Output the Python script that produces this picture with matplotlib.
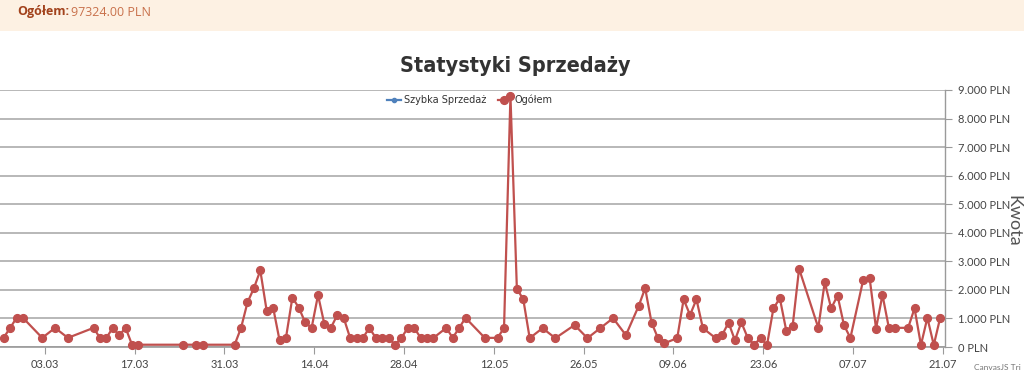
#!/usr/bin/env python
# sales statistics line chart (CanvasJS look)
import numpy as np
import pandas as pd
import matplotlib
matplotlib.use("Agg")
import matplotlib.pyplot as plt
import matplotlib.dates as mdates
from matplotlib import font_manager
from matplotlib.patches import Rectangle
from matplotlib.ticker import FuncFormatter

year = "2023"

days = ["25.02", "26.02", "27.02", "28.02", "03.03", "05.03", "07.03", "11.03", "12.03", "13.03",
        "14.03", "15.03", "16.03", "17.03", "18.03", "25.03", "27.03", "28.03", "02.04", "03.04",
        "04.04", "05.04", "06.04", "07.04", "08.04", "09.04", "10.04", "11.04", "12.04", "13.04",
        "14.04", "15.04", "16.04", "17.04", "18.04", "19.04", "20.04", "21.04", "22.04", "23.04",
        "24.04", "25.04", "26.04", "27.04", "28.04", "29.04", "30.04", "01.05", "02.05", "03.05",
        "05.05", "06.05", "07.05", "08.05", "11.05", "13.05", "14.05", "15.05", "16.05", "17.05",
        "18.05", "20.05", "22.05", "25.05", "27.05", "29.05", "31.05", "02.06", "04.06", "05.06",
        "06.06", "07.06", "08.06", "10.06", "11.06", "12.06", "13.06", "14.06", "16.06", "17.06",
        "18.06", "19.06", "20.06", "21.06", "22.06", "23.06", "24.06", "25.06", "26.06", "27.06",
        "28.06", "29.06", "02.07", "03.07", "04.07", "05.07", "06.07", "07.07", "09.07", "10.07",
        "11.07", "12.07", "13.07", "14.07", "16.07", "17.07", "18.07", "19.07", "20.07", "21.07"]

ogolem = [330, 670, 1020, 1020, 320, 670, 320, 670, 320, 320,
          670, 410, 670, 80, 80, 80, 80, 80, 80, 670,
          1560, 2060, 2680, 1260, 1380, 235, 320, 1730, 1380, 860,
          670, 1820, 790, 670, 1120, 1020, 320, 320, 320, 670,
          320, 320, 320, 80, 320, 670, 670, 320, 320, 320,
          670, 320, 670, 1020, 320, 320, 670, 8800, 2040, 1670,
          310, 660, 310, 770, 310, 660, 1010, 415, 1440, 2060,
          855, 310, 130, 310, 1670, 1120, 1670, 660, 310, 415,
          855, 235, 860, 318, 80, 318, 70, 1353, 1706, 576,
          741, 2741, 671, 2271, 1353, 1800, 765, 318, 2353, 2412,
          647, 1824, 671, 671, 671, 1353, 70, 1024, 70, 1024]

szybka = []  # empty series, legend only

tick_days = ["03.03", "17.03", "31.03", "14.04", "28.04", "12.05", "26.05", "09.06", "23.06", "07.07", "21.07"]

total = "97324.00 PLN"

red = "#C0504E"
blue = "#4F81BC"
grid = "#ababab"
txt = "#444444"

# pick a narrow heavy face for the title if one is installed
title_font = None
for f in font_manager.fontManager.ttflist:
    if "Narrow" in f.name or "Condensed" in f.name:
        title_font = f
        break
    if f.stretch in ("condensed", "semi-condensed", 300) and f.weight in ("bold", 700):
        title_font = f
        break

dates = pd.to_datetime([d + "." + year for d in days], format="%d.%m.%Y") - pd.Timedelta(hours=10)
ticks = pd.to_datetime([d + "." + year for d in tick_days], format="%d.%m.%Y")

fig = plt.figure(figsize=(10.24, 3.83), dpi=100)
W, H = 1024.0, 383.0

# top banner
fig.patches.append(Rectangle((0, 1 - 31 / H), 1, 31 / H, transform=fig.transFigure,
                             facecolor="#fdf1e3", edgecolor="none", zorder=0))
fig.text(17 / W, 1 - 12 / H, "Ogółem:", fontsize=9, fontweight="bold", color="#a2421c",
         family="Open Sans", va="center", ha="left")
fig.text(71 / W, 1 - 12 / H, total, fontsize=9, color="#c8714b",
         family="Open Sans", va="center", ha="left")

# title
if title_font is not None:
    fig.text(515 / W, 1 - 66 / H, "Statystyki Sprzedaży", fontsize=15.5, fontweight="bold",
             family=title_font.name, fontstretch="condensed", color="#333333",
             ha="center", va="center")
else:
    fig.text(515 / W, 1 - 66 / H, "Statystyki Sprzedaży", fontsize=14, fontweight="heavy",
             family="DejaVu Sans", color="#333333", ha="center", va="center")

ax = fig.add_axes([0, (H - 347) / H, 945 / W, (347 - 90) / H])
ax.plot(dates, ogolem, color=red, lw=1.6, marker="o", markersize=5.6,
        label="Ogółem", clip_on=False, zorder=3)
ax.plot(szybka, szybka, color=blue, lw=1.6, marker="o", markersize=3, label="Szybka Sprzedaż")

x0 = ticks[0] - pd.Timedelta(days=7)
x1 = ticks[-1] + pd.Timedelta(hours=8)
ax.set_xlim(x0, x1)
ax.set_ylim(0, 9000)

ax.set_xticks(ticks)
ax.xaxis.set_major_formatter(mdates.DateFormatter("%d.%m"))
ax.set_yticks(np.arange(0, 9001, 1000))
ax.yaxis.set_major_formatter(FuncFormatter(lambda v, p: f"{int(v):,} PLN".replace(",", ".")))
ax.yaxis.tick_right()
ax.grid(axis="y", color=grid, lw=1.2)
ax.set_axisbelow(True)

for s in ["top", "left"]:
    ax.spines[s].set_visible(False)
ax.spines["right"].set_color("#9a9a9a")
ax.spines["bottom"].set_color("#9a9a9a")
ax.spines["right"].set_linewidth(1.0)
ax.spines["bottom"].set_linewidth(1.2)
ax.tick_params(axis="x", colors="#9a9a9a", labelcolor=txt, labelsize=8, length=5, pad=4)
ax.tick_params(axis="y", colors="#9a9a9a", labelcolor=txt, labelsize=8, length=5, pad=4)
for lab in ax.get_xticklabels() + ax.get_yticklabels():
    lab.set_family("Lato")

h, l = ax.get_legend_handles_labels()
leg = ax.legend(h[::-1], l[::-1], loc="upper center", bbox_to_anchor=(0.497, 1.015), ncol=2,
                frameon=False, prop={"family": "DejaVu Sans", "size": 7}, handlelength=1.4,
                handletextpad=0.3, columnspacing=1.2)
for t in leg.get_texts():
    t.set_color("#333333")

fig.text(1013 / W, 1 - 221 / H, "Kwota", rotation=270, fontsize=13, family="Lato",
         color="#555555", ha="center", va="center")
# watermark, cut at the right edge in the original
fig.text(1021 / W, 1 - 367 / H, "CanvasJS Tri", fontsize=6, family="Lato",
         color="#777777", ha="right", va="center")

fig.savefig("out.png", dpi=100)
